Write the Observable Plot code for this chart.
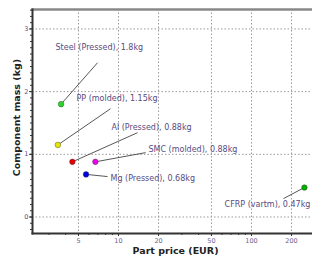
<!DOCTYPE html>
<html>
<head>
<meta charset="utf-8">
<script src="https://cdn.jsdelivr.net/npm/d3@7"></script>
<script src="https://cdn.jsdelivr.net/npm/@observablehq/plot@0.6"></script>
<style>
  html, body { margin: 0; padding: 0; background: #fff; }
  #chart svg { display: block; }
</style>
</head>
<body>
<div id="chart"></div>
<script>
// Data
const materials = ["Steel (Pressed), 1.8kg", "PP (molded), 1.15kg", "Al (Pressed), 0.88kg", "SMC (molded), 0.88kg", "Mg (Pressed), 0.68kg", "CFRP (vartm), 0.47kg"];
const price = [3.7, 3.5, 4.5, 6.7, 5.7, 250];
const mass = [1.8, 1.15, 0.88, 0.88, 0.68, 0.47];
const pointColors = ["#2bd62b", "#e6e600", "#e60000", "#ee00ee", "#0000e0", "#00b000"];
// label anchor positions (data space) and leader-line tips
const labelPrice = [3.36, 4.83, 8.86, 16.8, 8.71, 62.7];
const labelMass = [2.70, 1.886, 1.424, 1.074, 0.613, 0.199];
const tipPrice = [6.95, 8.71, 13.9, 16.0, 8.27, 174];
const tipMass = [2.46, 1.727, 1.345, 1.027, 0.645, 0.294];
const xTicks = [5, 10, 20, 50, 100, 200];
const xMinorTicks = [3, 4, 6, 7, 8, 9, 30, 40, 60, 70, 80, 90];
const yTicks = [0, 1, 2, 3];
const yTickLabels = ["0", "1", "2", "3"];
const yMinorTicks = d3.range(-2, 34).map(d => d / 10);
const xTitle = "Part price (EUR)";
const yTitle = "Component mass (kg)";

const rows = materials.map((m, i) => ({
  name: m, price: price[i], mass: mass[i], color: pointColors[i],
  lx: labelPrice[i], ly: labelMass[i], tx: tipPrice[i], ty: tipMass[i]
}));
const yLabelRows = yTicks.map((v, i) => ({ v, t: yTickLabels[i] }));

const tickColor = "#6e5e8c";

const chart = Plot.plot({
  width: 312,
  height: 262,
  marginLeft: 32,
  marginRight: 0,
  marginTop: 9,
  marginBottom: 29,
  style: { fontFamily: "DejaVu Sans, sans-serif", background: "#fff" },
  x: { type: "log", domain: [2.256, 287.5] },
  y: { domain: [-0.263, 3.31] },
  marks: [
    Plot.gridX(xTicks, { stroke: "#999", strokeOpacity: 1, strokeDasharray: "1.5,2", strokeWidth: 1 }),
    Plot.gridY(yTicks, { stroke: "#999", strokeOpacity: 1, strokeDasharray: "1.5,2", strokeWidth: 1 }),
    Plot.frame({ anchor: "top", stroke: "#888", strokeWidth: 2.5 }),
    Plot.frame({ anchor: "left", stroke: "#333", strokeWidth: 2 }),
    Plot.frame({ anchor: "bottom", stroke: "#333", strokeWidth: 2 }),
    Plot.axisX({ ticks: xMinorTicks, tickSize: 2, text: null, stroke: "#333", label: null }),
    Plot.axisX({ ticks: xTicks, tickSize: 3, text: null, stroke: "#333", label: null }),
    Plot.text(xTicks, { x: d => d, text: d => String(d), frameAnchor: "bottom", dy: 9, fontSize: 6.5, fill: tickColor }),
    Plot.axisY({ ticks: yMinorTicks, tickSize: 2, text: null, stroke: "#333", label: null }),
    Plot.axisY({ ticks: yTicks, tickSize: 3, text: null, stroke: "#333", label: null }),
    Plot.link(rows, { x1: "price", y1: "mass", x2: "tx", y2: "ty", stroke: "#444", strokeWidth: 0.9 }),
    Plot.dot(rows, { x: "price", y: "mass", fill: "color", stroke: "#333", strokeWidth: 0.4, r: 2.8 }),
    Plot.text(rows, { x: "lx", y: "ly", text: "name", textAnchor: "start", fill: "#5a4a80", fontSize: 8 }),
    Plot.text([yTitle], { frameAnchor: "left", rotate: -90, dx: -16, dy: -4, textAnchor: "middle", fontSize: 9.5, fontWeight: "bold", fill: "#222" }),
    Plot.text([xTitle], { frameAnchor: "bottom", dy: 20, dx: 3, textAnchor: "middle", fontSize: 9.5, fontWeight: "bold", fill: "#222" }),
    Plot.text(yLabelRows, { y: "v", text: "t", frameAnchor: "left", dx: -4, textAnchor: "end", fontSize: 6.5, fill: "#5e4e7c" })
  ]
});
document.getElementById("chart").appendChild(chart);
</script>
</body>
</html>
